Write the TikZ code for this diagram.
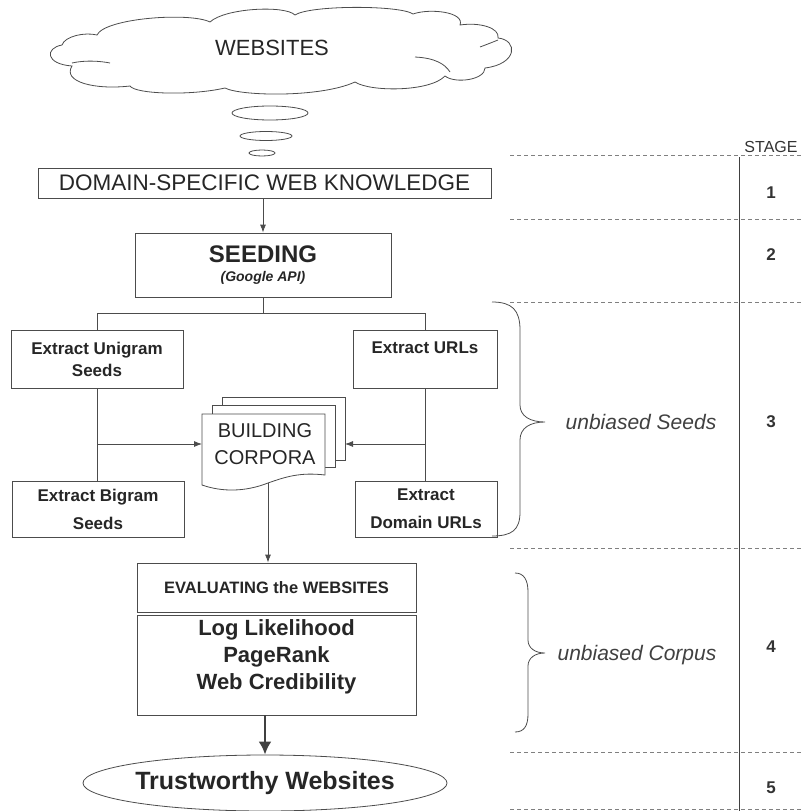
\documentclass[tikz,border=0pt]{standalone}
\usepackage{fontspec}
\setmainfont{Liberation Sans}
\usetikzlibrary{shapes.geometric,arrows.meta}
\tikzset{
  box/.style={draw=black!70, line width=0.8pt, inner sep=0pt, align=center, text=black!85},
  link/.style={draw=black!70, line width=0.8pt},
  stageline/.style={draw=black!50, line width=0.8pt, dash pattern=on 4pt off 3pt},
  note/.style={font=\fontsize{21}{24}\selectfont\itshape, text=black!75},
  stagenum/.style={font=\fontsize{17}{20}\selectfont\bfseries, text=black!80}
}
\begin{document}
\begin{tikzpicture}[x=1pt,y=-1pt,>={Latex[length=8pt,width=6pt]}]
\useasboundingbox (0,0) rectangle (803,811);
% cloud
\draw[link] (97,35) .. controls (105,18) and (190,12) .. (210,22)
  .. controls (225,8) and (285,5) .. (295,15)
  .. controls (310,5) and (400,5) .. (413,14)
  .. controls (430,8) and (465,12) .. (460,25)
  .. controls (480,22) and (500,28) .. (498,38)
  .. controls (518,40) and (518,64) .. (485,68)
  .. controls (485,80) and (455,84) .. (445,76)
  .. controls (430,92) and (370,92) .. (355,82)
  .. controls (320,98) and (240,96) .. (225,88)
  .. controls (190,96) and (135,94) .. (130,86)
  .. controls (95,90) and (62,82) .. (72,66)
  .. controls (45,64) and (45,48) .. (62,45)
  .. controls (65,36) and (85,32) .. (97,35) -- cycle;
\draw[link] (72,63) .. controls (85,60) and (100,61) .. (110,63);
\draw[link] (415,57) .. controls (435,58) and (445,64) .. (450,72);
\draw[link] (480,47) .. controls (488,44) and (493,42) .. (498,40);
\node[font=\fontsize{22}{26}\selectfont, text=black!85] (web) at (272,48) {WEBSITES};
\draw[link] (270,113) ellipse [x radius=38pt, y radius=7pt];
\draw[link] (266,136) ellipse [x radius=26pt, y radius=4.5pt];
\draw[link] (262,153) ellipse [x radius=13pt, y radius=3pt];
\node[box, minimum width=453pt, minimum height=30pt, font=\fontsize{22.5}{26}\selectfont] (dom) at (264.5,183) {DOMAIN-SPECIFIC WEB KNOWLEDGE};
\node[box, minimum width=256pt, minimum height=64pt] (seed) at (263,265) {\fontsize{24}{26}\selectfont\bfseries SEEDING\\[7pt]\fontsize{14}{16}\selectfont\bfseries\itshape (Google API)};
\draw[link,->] (dom.south -| seed.north) -- (seed.north);
\node[box, minimum width=172pt, minimum height=58pt, font=\fontsize{17}{22}\selectfont\bfseries] (uni) at (97,359) {Extract Unigram\\Seeds};
\node[box, minimum width=144pt, minimum height=58pt, font=\fontsize{17}{22}\selectfont\bfseries] (url) at (425,359) {Extract URLs\\~};
\node[box, minimum width=172pt, minimum height=56pt, font=\fontsize{17}{22}\selectfont\bfseries] (bi) at (98,509) {Extract Bigram\\[6pt]Seeds};
\node[box, minimum width=142pt, minimum height=56pt, font=\fontsize{17}{22}\selectfont\bfseries] (durl) at (426,509) {Extract\\[6pt]Domain URLs};
\draw[link] (seed.south) -- ++(0,16) coordinate (split);
\draw[link] (uni.north) |- (split) -| (url.north);
\draw[link] (uni.south) -- (uni.south |- bi.north);
\draw[link] (url.south) -- (url.south |- durl.north);
% stack of pages
\draw[link, fill=white] (222,397) rectangle (345,460);
\draw[link, fill=white] (212,405) rectangle (335,467);
\draw[link, fill=white] (202,414) -- (325,414) -- (325,475) .. controls (300,472) and (285,477) .. (268,483) .. controls (245,492) and (222,492) .. (202,485) -- cycle;
\node[align=center, inner sep=0pt, minimum width=123pt, minimum height=60pt, font=\fontsize{20}{27}\selectfont, text=black!85] (corp) at (265,444) {BUILDING\\CORPORA};
\coordinate (corpleft) at (202,444);
\coordinate (corpback) at (345,444);
\coordinate (corpwave) at (268,483);
\draw[link,->] (uni.south |- corpleft) -- (corpleft);
\draw[link,->] (url.south |- corpback) -- (corpback);
\node[box, minimum width=279pt, minimum height=49pt, font=\fontsize{16.5}{20}\selectfont\bfseries] (evalh) at (276.5,587.5) {EVALUATING the WEBSITES};
\node[box, minimum width=279pt, minimum height=100pt] (evalb) at (276.5,665) {};
\node[align=center, font=\fontsize{22}{27}\selectfont\bfseries, text=black!85] (evaltxt) at (276.5,657) {Log Likelihood\\PageRank\\Web Credibility};
\draw[link,->] (corpwave) -- (corpwave |- evalh.north);
\node[box, ellipse, inner xsep=-4pt, minimum width=364pt, minimum height=56pt, font=\fontsize{25}{30}\selectfont\bfseries] (trust) at (265,783) {Trustworthy Websites};
\draw[draw=black!75, line width=2.5pt, -{Latex[length=13pt,width=13pt]}] (evalb.south -| trust.north) -- (trust.north);
% braces
\draw[link] (492,302) .. controls (512,302) and (520,310) .. (520,330) -- (520,405) .. controls (520,416) and (530,422) .. (545,422) .. controls (530,422) and (520,428) .. (520,440) -- (520,512) .. controls (520,530) and (512,536) .. (492,536);
\draw[link] (515,573) .. controls (524,573) and (528,580) .. (528,592) -- (528,640) .. controls (528,648) and (535,653) .. (545,653) .. controls (535,653) and (528,658) .. (528,666) -- (528,714) .. controls (528,726) and (524,732) .. (515,732);
\node[note] (seedsnote) at (641,422) {unbiased Seeds};
\node[note] (corpusnote) at (637,655) {unbiased Corpus};
% stage column
\foreach \y in {155,219,302,548,752,809}
\draw[stageline] (510,\y) -- (803,\y);
\draw[draw=black!75, line width=1pt] (739,157) -- (739,811);
\node[font=\fontsize{16}{18}\selectfont, text=black!80] (stagehead) at (771,147) {STAGE};
\foreach \n/\y in {1/193,2/255,3/422,4/647,5/788}
\node[stagenum] (s\n) at (771,\y) {\n};
\end{tikzpicture}
\end{document}
